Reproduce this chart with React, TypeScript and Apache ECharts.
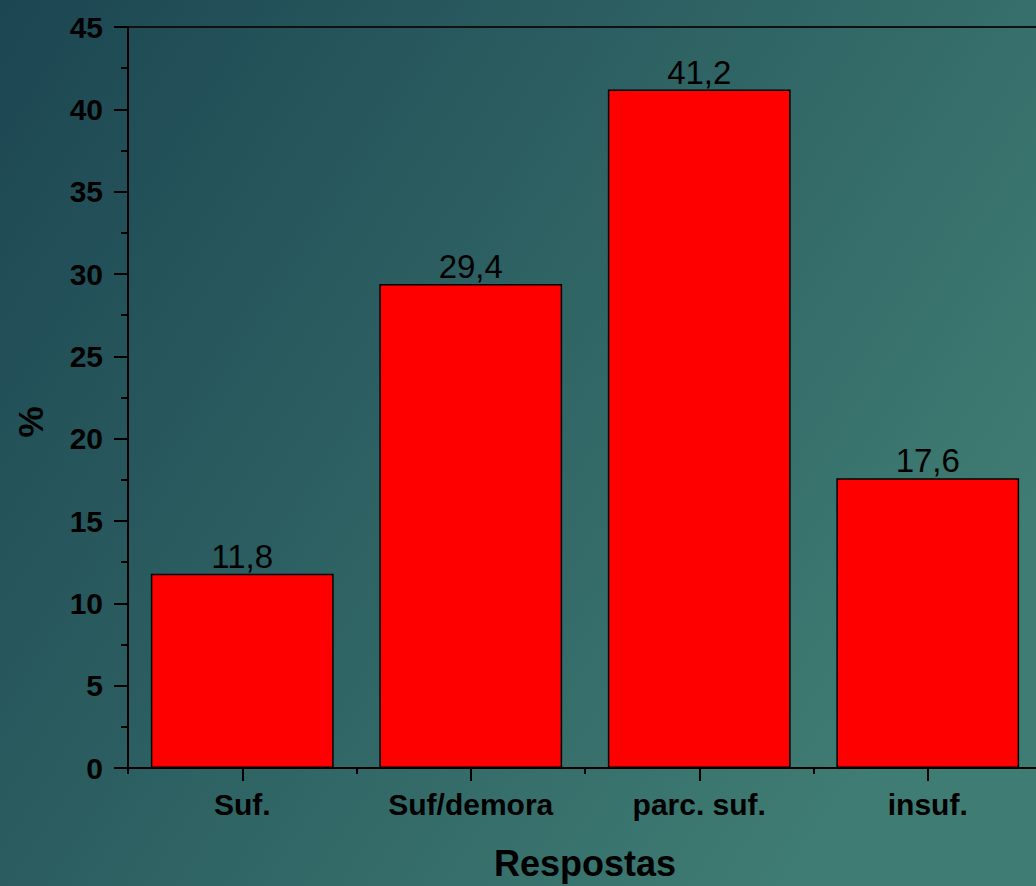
import React, { useEffect, useRef } from "react";
import * as echarts from "echarts";

const categories = ["Suf.", "Suf/demora", "parc. suf.", "insuf."];
const values = [11.8, 29.4, 41.2, 17.6];
const yTicks = { min: 0, max: 45, interval: 5 };
const xName = "Respostas";
const yName = "%";

const FONT = 'Arial, "Liberation Sans", Helvetica, sans-serif';
const W = 1052;
const H = 886;

export default function App() {
  const ref = useRef<HTMLDivElement>(null);
  useEffect(() => {
    if (!ref.current) return;
    const chart = echarts.init(ref.current, undefined, { renderer: "svg" });
    chart.setOption({
      animation: false,
      backgroundColor: new echarts.graphic.LinearGradient(0, 0, 1, 0.55, [
        { offset: 0, color: "#1c4652" },
        { offset: 1, color: "#3f7c73" },
      ]),
      textStyle: { fontFamily: FONT },
      grid: {
        left: 128,
        top: 27,
        bottom: H - 769,
        right: W - 1042,
        show: true,
        borderColor: "#111",
        borderWidth: 2,
        backgroundColor: "transparent",
      },
      xAxis: [
        {
          type: "category",
          data: categories,
          position: "bottom",
          axisLine: { show: true, lineStyle: { color: "#000", width: 2 } },
          axisTick: { show: true, alignWithLabel: true, length: 13, lineStyle: { color: "#000", width: 2 } },
          axisLabel: { color: "#000", fontSize: 30, fontWeight: "bold", margin: 21, fontFamily: FONT },
          name: xName,
          nameLocation: "middle",
          nameGap: 77,
          nameTextStyle: { color: "#000", fontSize: 36, fontWeight: "bold", fontFamily: FONT },
          splitLine: { show: false },
        },
        {
          type: "value",
          min: 0,
          max: 4,
          interval: 1,
          position: "bottom",
          axisLine: { show: false },
          axisTick: { show: true, length: 6, lineStyle: { color: "#000", width: 2 } },
          axisLabel: { show: false },
          splitLine: { show: false },
        },
      ],
      yAxis: {
        type: "value",
        min: yTicks.min,
        max: yTicks.max,
        interval: yTicks.interval,
        axisLine: { show: true, lineStyle: { color: "#000", width: 2 } },
        axisTick: { show: true, length: 14, lineStyle: { color: "#000", width: 2 } },
        minorTick: { show: true, splitNumber: 2, length: 7, lineStyle: { color: "#000", width: 2 } },
        axisLabel: { color: "#000", fontSize: 30, fontWeight: "bold", margin: 25, fontFamily: FONT },
        splitLine: { show: false },
      },
      graphic: [
        {
          type: "text",
          x: 30,
          y: 422,
          rotation: Math.PI / 2,
          style: {
            text: yName,
            fill: "#000",
            font: `bold 35px ${FONT}`,
            textAlign: "center",
            textVerticalAlign: "middle",
          },
        },
      ],
      series: [
        {
          type: "bar",
          data: values,
          barWidth: "80%",
          itemStyle: { color: "#ff0000", borderColor: "#000", borderWidth: 1.5 },
          label: {
            show: true,
            position: "top",
            distance: 1,
            color: "#000",
            fontSize: 33,
            fontFamily: FONT,
            formatter: (p: any) => Number(p.value).toFixed(1).replace(".", ","),
          },
        },
      ],
    });
    return () => chart.dispose();
  }, []);
  return (
    <div style={{ position: "absolute", left: 0, top: 0, width: 1036, height: H, overflow: "hidden" }}>
      <div ref={ref} style={{ width: W, height: H }} />
    </div>
  );
}
